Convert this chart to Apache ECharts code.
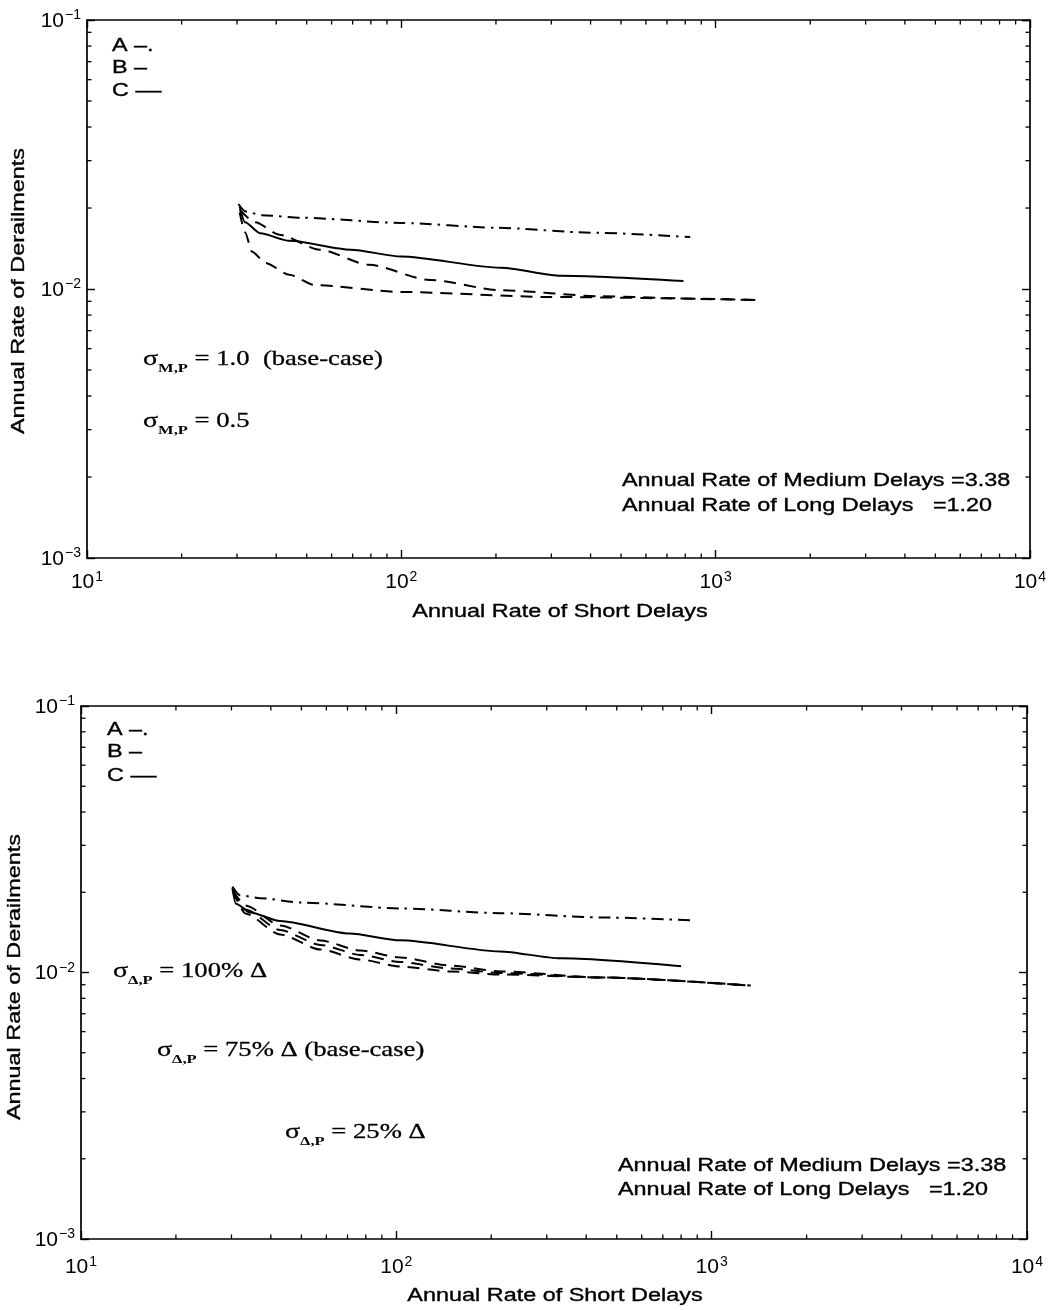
<!DOCTYPE html>
<html>
<head>
<meta charset="utf-8">
<script src="https://cdn.jsdelivr.net/npm/echarts@6/dist/echarts.min.js"></script>
<style>
  html, body { margin: 0; padding: 0; background: #fff; }
  #chart { width: 1054px; height: 1310px; }
</style>
</head>
<body>
<div id="chart"></div>
<script>
// ---- Upper panel: sigma M,P sensitivity ----
const upperA_x = [30.3, 32, 36, 48, 100, 200, 400, 830];
const upperA_y = [0.0207, 0.0194, 0.0188, 0.0184, 0.0176, 0.0169, 0.0162, 0.0156];
const upperB_x = [30.6, 31.8, 35.6, 44, 69, 100, 207, 322, 790];
const upperB_y = [0.0202, 0.0177, 0.0161, 0.0151, 0.0140, 0.0132, 0.0120, 0.0112, 0.0107];
const upperC_base_x = [30.6, 34.3, 41, 55, 79, 123, 207, 430, 890, 1360];
const upperC_base_y = [0.0197, 0.0177, 0.0159, 0.0140, 0.0123, 0.0108, 0.0099, 0.0094, 0.0092, 0.0091];
const upperC_half_x = [30.6, 31.8, 33.5, 37, 44, 53, 99, 297, 1360];
const upperC_half_y = [0.0193, 0.0163, 0.01375, 0.0125, 0.0113, 0.01035, 0.00975, 0.00934, 0.0091];

// ---- Lower panel: sigma Delta,P sensitivity ----
const lowerA_x = [30.2, 31.9, 37, 50, 103, 213, 443, 860];
const lowerA_y = [0.0210, 0.0195, 0.0190, 0.0183, 0.0174, 0.0167, 0.0161, 0.0157];
const lowerB_x = [30.2, 31, 34.4, 42.8, 71, 103, 213, 331, 800];
const lowerB_y = [0.0207, 0.0181, 0.0168, 0.0156, 0.0140, 0.0132, 0.0120, 0.0113, 0.01055];
const lowerC_x = [30.3, 33.2, 42.8, 57.4, 76.9, 103, 148, 214, 444, 1330];
const lowerC100_y = [0.0203, 0.01786, 0.01502, 0.01319, 0.01210, 0.01139, 0.01062, 0.01009, 0.00958, 0.00893];
const lowerC75_y  = [0.0203, 0.01725, 0.01444, 0.01269, 0.01164, 0.01095, 0.01035, 0.00996, 0.00958, 0.00893];
const lowerC25_y  = [0.0203, 0.01666, 0.01389, 0.01220, 0.01119, 0.01053, 0.01009, 0.00983, 0.00958, 0.00893];

// ---- Axis ranges and tick values ----
const xRange = [10, 10000];
const yRange = [0.001, 0.1];
const xMinorTicks = [];
const yMinorTicks = [];
[10, 100, 1000].forEach(d => { for (let k = 2; k <= 9; k++) xMinorTicks.push(k * d); });
[0.001, 0.01].forEach(d => { for (let k = 2; k <= 9; k++) yMinorTicks.push(+(k * d).toPrecision(3)); });

const pairs = (xs, ys) => xs.map((x, i) => [x, ys[i]]);

const SANS = 'Liberation Sans, Arial, Helvetica, sans-serif';
const SERIF = 'Liberation Serif, Times New Roman, serif';
const STRETCH = 1.3;

function powerLabel(v) {
  const e = Math.round(Math.log10(v));
  const s = e < 0 ? '\u2212' + (-e) : String(e);
  return '{b|10}{s|' + s + '}';
}
const powerRich = {
  b: { fontFamily: SANS, fontSize: 21, color: '#000', lineHeight: 23, verticalAlign: 'bottom' },
  s: { fontFamily: SANS, fontSize: 14, color: '#000', lineHeight: 11, verticalAlign: 'top', padding: [0, 0, 0, 1] }
};

const grids = [
  { left: 87, top: 20, width: 943, height: 538 },
  { left: 81, top: 706, width: 946, height: 533 }
];
const xLabelMargin = [12, 16];

const xAxes = [];
const yAxes = [];
grids.forEach((g, gi) => {
  const line = { show: true, onZero: false, lineStyle: { color: '#000', width: 1.7 } };
  const tick = { show: true, inside: true, length: 8, lineStyle: { color: '#000', width: 1.4 } };
  xAxes.push({
    gridIndex: gi, type: 'log', logBase: 10, min: xRange[0], max: xRange[1], position: 'bottom',
    axisLine: line, axisTick: tick, splitLine: { show: false },
    axisLabel: { formatter: powerLabel, rich: powerRich, margin: xLabelMargin[gi], color: '#000' }
  });
  xAxes.push({
    gridIndex: gi, type: 'log', logBase: 10, min: xRange[0], max: xRange[1], position: 'top',
    axisLine: line, axisTick: tick, splitLine: { show: false }, axisLabel: { show: false }
  });
  yAxes.push({
    gridIndex: gi, type: 'log', logBase: 10, min: yRange[0], max: yRange[1], position: 'left',
    axisLine: line, axisTick: tick, splitLine: { show: false },
    axisLabel: { formatter: powerLabel, rich: powerRich, margin: 6, color: '#000' }
  });
  yAxes.push({
    gridIndex: gi, type: 'log', logBase: 10, min: yRange[0], max: yRange[1], position: 'right',
    axisLine: line, axisTick: tick, splitLine: { show: false }, axisLabel: { show: false }
  });
});

// minor (2..9) ticks of each decade, drawn inside the frame on both sides
function minorTicks(gi, dir) {
  const data = dir === 'x' ? xMinorTicks.map(v => [v, 0.01]) : yMinorTicks.map(v => [100, v]);
  return {
    type: 'custom', xAxisIndex: gi * 2, yAxisIndex: gi * 2, silent: true, clip: false, z: 5,
    data: data,
    renderItem: function (params, api) {
      const cs = params.coordSys;
      const p = api.coord([api.value(0), api.value(1)]);
      const st = { stroke: '#000', lineWidth: 1.3 };
      const L = 4.5;
      if (dir === 'x') {
        const b = cs.y + cs.height;
        return { type: 'group', children: [
          { type: 'line', shape: { x1: p[0], y1: b, x2: p[0], y2: b - L }, style: st },
          { type: 'line', shape: { x1: p[0], y1: cs.y, x2: p[0], y2: cs.y + L }, style: st }
        ] };
      }
      const r = cs.x + cs.width;
      return { type: 'group', children: [
        { type: 'line', shape: { x1: cs.x, y1: p[1], x2: cs.x + L, y2: p[1] }, style: st },
        { type: 'line', shape: { x1: r, y1: p[1], x2: r - L, y2: p[1] }, style: st }
      ] };
    }
  };
}

const DASHDOT = [12, 6, 2.5, 6];
const DASHED = [12, 8];
function curve(gi, name, xs, ys, dash) {
  return {
    type: 'line', name: name, xAxisIndex: gi * 2, yAxisIndex: gi * 2,
    data: pairs(xs, ys), showSymbol: false, symbol: 'none',
    smooth: 0.25, smoothMonotone: 'x', silent: true,
    lineStyle: { color: '#000', width: 2, type: dash || 'solid' }
  };
}

const series = [
  curve(0, 'A', upperA_x, upperA_y, DASHDOT),
  curve(0, 'B', upperB_x, upperB_y),
  curve(0, 'C 1.0', upperC_base_x, upperC_base_y, DASHED),
  curve(0, 'C 0.5', upperC_half_x, upperC_half_y, DASHED),
  curve(1, 'A', lowerA_x, lowerA_y, DASHDOT),
  curve(1, 'B', lowerB_x, lowerB_y),
  curve(1, 'C 100%', lowerC_x, lowerC100_y, DASHED),
  curve(1, 'C 75%', lowerC_x, lowerC75_y, DASHED),
  curve(1, 'C 25%', lowerC_x, lowerC25_y, DASHED),
  minorTicks(0, 'x'), minorTicks(0, 'y'), minorTicks(1, 'x'), minorTicks(1, 'y')
];

// ---- Text elements ----
function sansText(x, y, text, opts) {
  opts = opts || {};
  return {
    type: 'text', x: x, y: y, rotation: opts.rotation || 0, scaleX: STRETCH, z: 10, silent: true,
    style: {
      text: text, fill: '#000', font: '18px ' + SANS,
      stroke: '#000', lineWidth: 0.35,
      align: opts.align || 'left', verticalAlign: 'middle'
    }
  };
}
const sigmaRich = {
  g: { fontFamily: SERIF, fontSize: 22, fill: '#000', stroke: '#000', lineWidth: 0.3, lineHeight: 24, verticalAlign: 'bottom', padding: [0, 0, 5, 0] },
  u: { fontFamily: SERIF, fontSize: 13, fontWeight: 'bold', fill: '#000', lineHeight: 13, verticalAlign: 'bottom' },
  t: { fontFamily: SERIF, fontSize: 21, fill: '#000', stroke: '#000', lineWidth: 0.3, lineHeight: 24, verticalAlign: 'bottom', padding: [0, 0, 5, 0] }
};
function sigmaText(x, y, sub, rest) {
  return {
    type: 'text', x: x, y: y + 3, scaleX: 1.27, z: 10, silent: true,
    style: {
      text: '{g|\u03c3}{u|' + sub + '}{t|' + rest + '}', rich: sigmaRich,
      fill: '#000', align: 'left', verticalAlign: 'middle'
    }
  };
}

const graphics = [
  // upper panel
  sansText(112, 46, 'A \u2013.'),
  sansText(112, 68, 'B \u2013'),
  sansText(112, 91, 'C \u2013\u2013'),
  sigmaText(143, 360, 'M,P', ' = 1.0  (base-case)'),
  sigmaText(143, 422, 'M,P', ' = 0.5'),
  sansText(622, 481, 'Annual Rate of Medium Delays =3.38'),
  sansText(622, 506, 'Annual Rate of Long Delays   =1.20'),
  sansText(560, 612, 'Annual Rate of Short Delays', { align: 'center' }),
  sansText(19, 291, 'Annual Rate of Derailments', { align: 'center', rotation: Math.PI / 2 }),
  // lower panel
  sansText(107, 730, 'A \u2013.'),
  sansText(107, 752, 'B \u2013'),
  sansText(107, 776, 'C \u2013\u2013'),
  sigmaText(113, 972, '\u0394,P', ' = 100% \u0394'),
  sigmaText(157, 1051, '\u0394,P', ' = 75% \u0394 (base-case)'),
  sigmaText(285, 1133, '\u0394,P', ' = 25% \u0394'),
  sansText(618, 1166, 'Annual Rate of Medium Delays =3.38'),
  sansText(618, 1190, 'Annual Rate of Long Delays   =1.20'),
  sansText(555, 1296, 'Annual Rate of Short Delays', { align: 'center' }),
  sansText(15, 977, 'Annual Rate of Derailments', { align: 'center', rotation: Math.PI / 2 })
];

const chart = echarts.init(document.getElementById('chart'), null, { renderer: 'canvas' });
chart.setOption({
  backgroundColor: '#fff',
  animation: false,
  grid: grids,
  xAxis: xAxes,
  yAxis: yAxes,
  series: series,
  graphic: graphics
});
</script>
</body>
</html>
